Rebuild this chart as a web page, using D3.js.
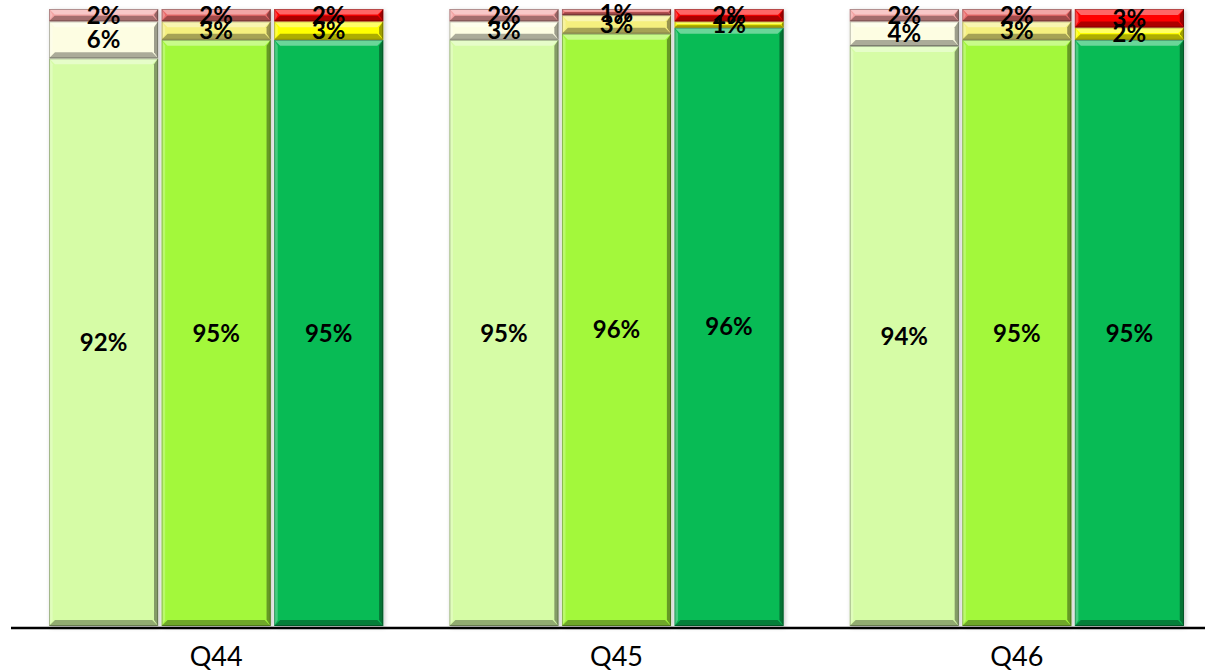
<!DOCTYPE html>
<html>
<head>
<meta charset="utf-8">
<script src="https://cdn.jsdelivr.net/npm/d3@7"></script>
<style>
  html, body { margin: 0; padding: 0; background: #ffffff; }
  svg { display: block; }
</style>
</head>
<body>
<svg id="chart" width="1205" height="671"></svg>
<script>
// Questions along the axis
const questions = ["Q44", "Q45", "Q46"];
// Three respondent series per question
const seriesNames = ["s1", "s2", "s3"];
// Share of answers per bar, stacked bottom to top: positive, neutral, negative
const positive = [[92, 95, 95], [95, 96, 96], [94, 95, 95]];
const neutral  = [[6, 3, 3],    [3, 3, 1],    [4, 3, 2]];
const negative = [[2, 2, 2],    [2, 1, 2],    [2, 2, 3]];
const levels = ["positive", "neutral", "negative"];

// Colours per series (columns) and level (rows)
const palette = {
  s1: { positive: "#d6fca6", neutral: "#fdfde2", negative: "#f3a3a3" },
  s2: { positive: "#a3f83b", neutral: "#f5ef7e", negative: "#ea6a6a" },
  s3: { positive: "#08bb55", neutral: "#ffff00", negative: "#ff0000" }
};

const rows = [];
questions.forEach((q, qi) => {
  seriesNames.forEach((s, si) => {
    rows.push({ q, s, positive: positive[qi][si], neutral: neutral[qi][si], negative: negative[qi][si] });
  });
});

const stacked = d3.stack().keys(levels).offset(d3.stackOffsetExpand)(rows);

const svg = d3.select("#chart");

const x0 = d3.scaleBand().domain(questions).range([16, 1217]).paddingInner(0.165).paddingOuter(0.0825);
const x1 = d3.scaleBand().domain(seriesNames).range([0, x0.bandwidth()]).paddingInner(0.03);
const y = d3.scaleLinear().domain([0, 1]).range([626, 9]);

const defs = svg.append("defs");
const shadow = defs.append("filter").attr("id", "barShadow")
  .attr("x", "-10%").attr("y", "-10%").attr("width", "120%").attr("height", "120%");
shadow.append("feDropShadow").attr("dx", 1.5).attr("dy", 1.5).attr("stdDeviation", 2)
  .attr("flood-color", "#000").attr("flood-opacity", 0.22);

const barsLayer = svg.append("g");

// Bevelled segment: base fill plus light top/left and dark bottom/right facets
function bevel(g, x, yTop, w, h, color) {
  const b = Math.min(6, h / 2.2);
  const seg = g.append("g");
  seg.append("rect").attr("x", x).attr("y", yTop).attr("width", w).attr("height", h).attr("fill", color);
  const facets = [
    { pts: [[x, yTop], [x + w, yTop], [x + w - b, yTop + b], [x + b, yTop + b]], fill: "#ffffff", op: 0.4 },
    { pts: [[x, yTop + h], [x + w, yTop + h], [x + w - b, yTop + h - b], [x + b, yTop + h - b]], fill: "#000000", op: 0.32 },
    { pts: [[x, yTop], [x + b * 0.6, yTop + b], [x + b * 0.6, yTop + h - b], [x, yTop + h]], fill: "#ffffff", op: 0.25 },
    { pts: [[x + w, yTop], [x + w - b * 0.7, yTop + b], [x + w - b * 0.7, yTop + h - b], [x + w, yTop + h]], fill: "#000000", op: 0.38 }
  ];
  facets.forEach(f => {
    seg.append("polygon").attr("points", f.pts.map(p => p.join(",")).join(" "))
      .attr("fill", f.fill).attr("fill-opacity", f.op);
  });
  seg.append("rect").attr("x", x + 0.5).attr("y", yTop + 0.5).attr("width", w - 1).attr("height", Math.max(0, h - 1))
    .attr("fill", "none").attr("stroke", "#000").attr("stroke-opacity", 0.28).attr("stroke-width", 1);
}

// Shadow holders under each full bar
rows.forEach(r => {
  barsLayer.append("rect")
    .attr("x", x0(r.q) + x1(r.s)).attr("y", y(1))
    .attr("width", x1.bandwidth()).attr("height", y(0) - y(1))
    .attr("fill", "#ffffff").attr("filter", "url(#barShadow)");
});

stacked.forEach(layer => {
  layer.forEach((d, i) => {
    const r = rows[i];
    const bx = x0(r.q) + x1(r.s);
    bevel(barsLayer, bx, y(d[1]), x1.bandwidth(), y(d[0]) - y(d[1]), palette[r.s][layer.key]);
  });
});

// Value labels centred in each segment (kept inside the drawing at the top)
const labelLayer = svg.append("g")
  .attr("font-family", "Lato, 'Open Sans', sans-serif")
  .attr("font-weight", "bold").attr("font-size", 24)
  .attr("fill", "#000").attr("text-anchor", "middle");

stacked.forEach(layer => {
  layer.forEach((d, i) => {
    const r = rows[i];
    const cy = Math.max(13, (y(d[0]) + y(d[1])) / 2);
    labelLayer.append("text")
      .attr("x", x0(r.q) + x1(r.s) + x1.bandwidth() / 2)
      .attr("y", cy)
      .attr("dy", "0.36em")
      .text(r[layer.key] + "%");
  });
});

// Category axis
const axis = svg.append("g").attr("transform", "translate(0,628)");
axis.append("line").attr("x1", 11).attr("x2", 1205).attr("y1", 0).attr("y2", 0)
  .attr("stroke", "#000").attr("stroke-width", 2.6);
axis.selectAll("text.cat").data(questions).enter().append("text")
  .attr("class", "cat")
  .attr("x", d => x0(d) + x0.bandwidth() / 2)
  .attr("y", 38)
  .attr("text-anchor", "middle")
  .attr("font-family", "Lato, 'Open Sans', sans-serif")
  .attr("font-size", 27)
  .attr("fill", "#000")
  .text(d => d);
</script>
</body>
</html>
